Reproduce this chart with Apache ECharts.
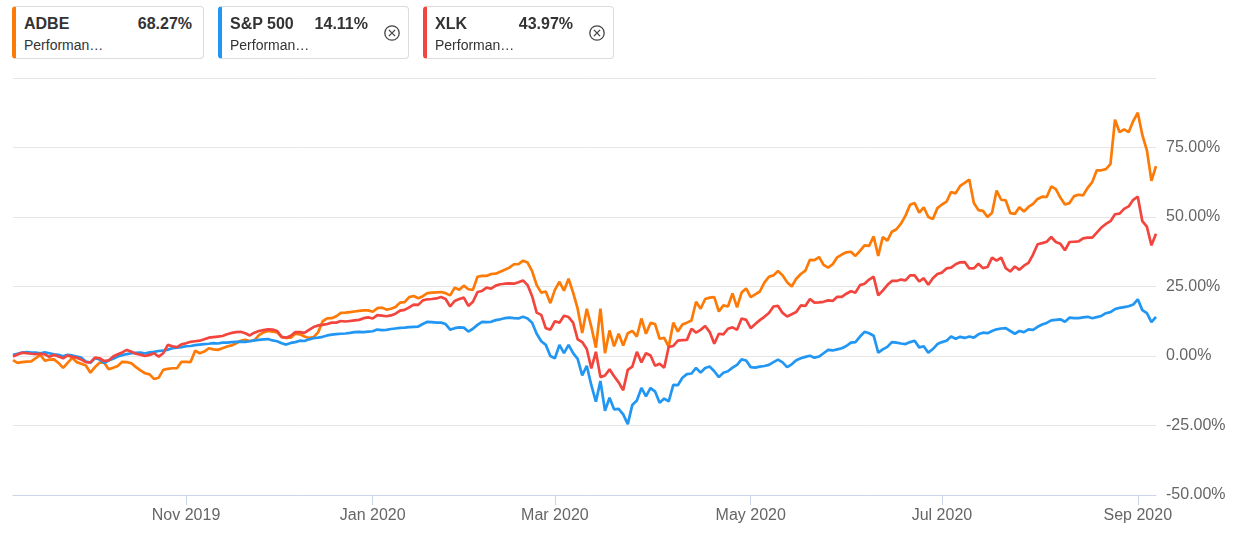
<!DOCTYPE html>
<html>
<head>
<meta charset="utf-8">
<title>ADBE vs S&amp;P 500 vs XLK</title>
<script src="https://cdn.jsdelivr.net/npm/echarts@6/dist/echarts.min.js"></script>
<style>
  html, body { margin: 0; padding: 0; background: #fff; }
  #wrap { position: relative; width: 1236px; height: 539px; overflow: hidden; }
  #chart { position: absolute; left: 0; top: 0; width: 1236px; height: 539px; }
  .card {
    position: absolute; top: 6px; height: 53px; box-sizing: border-box;
    border: 1px solid #dcdcdc; border-left-width: 4px; border-radius: 4px;
    background: #fff; font-family: "Liberation Sans", Arial, sans-serif; color: #333;
  }
  .name { position: absolute; left: 8px; top: 9px; font-size: 16px; line-height: 16px; font-weight: bold; }
  .pct { position: absolute; top: 9px; font-size: 16px; line-height: 16px; font-weight: bold; }
  .sub { position: absolute; left: 8px; top: 31px; font-size: 14px; line-height: 14px; }
  .close { position: absolute; right: 7px; top: 17px; width: 18px; height: 18px; }
</style>
</head>
<body>
<div id="wrap">
  <div id="chart"></div>
  <div id="legend"></div>
</div>
<script>
// performance in % since 2019-09-10, one value per trading day
const adbe = [
  -1.5, -2.5, -2.2, -2.0, -1.9, -0.8, 0.4, -1.7, -1.3, -1.2,
  -2.5, -4.3, -2.5, -0.7, -2.2, -2.8, -3.4, -6.0, -4.0, -2.4,
  -2.3, -4.8, -4.2, -3.6, -2.1, -2.2, -2.6, -4.0, -5.2, -6.2,
  -6.6, -8.3, -7.8, -5.0, -4.6, -4.4, -4.4, -2.1, -2.1, -2.2,
  1.9, 1.0, 1.6, 2.8, 2.4, 2.2, 2.8, 3.4, 3.8, 4.6,
  5.5, 5.8, 5.4, 5.6, 7.5, 8.5, 9.0, 8.8, 8.5, 6.8,
  6.5, 6.6, 8.0, 7.8, 7.0, 6.5, 6.8, 8.5, 12.5, 13.5,
  13.6, 14.3, 15.5, 15.6, 15.8, 16.0, 16.2, 16.4, 16.4, 15.9,
  17.2, 17.4, 16.7, 17.0, 17.6, 19.2, 19.4, 21.2, 21.6, 20.8,
  21.5, 22.6, 22.8, 22.9, 23.0, 22.6, 21.8, 24.6, 23.8, 25.3,
  24.0, 23.8, 28.5, 28.8, 28.8, 29.5, 29.6, 30.3, 31.0, 31.8,
  33.0, 33.0, 34.3, 33.6, 30.5, 25.5, 22.8, 23.2, 19.0, 23.8,
  26.7, 23.5, 27.8, 22.8, 17.0, 8.3, 17.0, 10.5, 3.0, 17.0,
  1.0, 9.2, 3.5, 8.0, 3.8, 8.2, 9.0, 7.0, 13.5, 8.0,
  11.9, 11.5, 6.2, 6.5, 3.3, 12.0, 8.8, 11.3, 12.0, 12.8,
  19.5, 17.0, 20.5, 21.0, 21.2, 16.0, 18.2, 17.8, 22.5, 17.5,
  22.8, 24.3, 21.2, 22.2, 23.2, 26.4, 28.5, 29.0, 30.6, 29.0,
  26.5, 25.0, 27.8, 29.5, 30.7, 34.6, 34.5, 35.6, 32.8, 31.8,
  33.0, 35.5, 36.5, 37.3, 37.5, 36.0, 37.8, 39.8, 39.6, 43.0,
  36.0, 42.8, 41.5, 44.7, 45.6, 47.6, 50.5, 54.4, 55.0, 51.6,
  53.5, 50.0, 49.3, 53.2, 54.5, 55.5, 59.0, 58.5, 61.2, 62.3,
  63.5, 55.0, 52.5, 52.2, 50.0, 51.5, 59.5, 56.2, 56.0, 51.4,
  51.1, 53.5, 52.0, 53.6, 54.7, 56.5, 57.3, 57.2, 61.0, 60.0,
  57.0, 54.5, 55.0, 57.5, 58.0, 57.8, 60.5, 62.6, 66.8, 66.8,
  67.2, 69.0, 85.0, 80.5, 81.5, 80.5, 84.5, 87.5, 79.5, 74.0,
  63.0, 68.27
];
const spx = [
  0.4, 0.8, 1.2, 1.4, 1.2, 1.2, 1.0, 1.3, 1.0, 0.6,
  0.4, -0.1, 0.4, 0.2, -0.2, -0.6, -2.0, -2.4, -0.8, -1.2,
  -2.5, -1.6, -1.0, -0.2, 0.3, 0.7, 1.0, 1.1, 1.2, 0.9,
  1.3, 1.5, 1.8, 1.9, 2.3, 2.8, 3.0, 3.2, 3.5, 3.6,
  3.9, 4.1, 4.3, 4.4, 4.6, 4.5, 4.8, 4.8, 5.0, 5.1,
  5.2, 5.1, 5.3, 5.6, 5.8, 6.0, 6.1, 5.6, 5.3, 4.6,
  4.1, 4.7, 5.0, 5.5, 5.4, 6.0, 6.4, 6.6, 6.9, 7.4,
  7.7, 7.9, 8.0, 8.1, 8.3, 8.6, 8.7, 8.6, 8.8, 8.9,
  9.5, 9.3, 9.4, 9.7, 9.9, 10.1, 10.2, 10.4, 10.5, 10.6,
  11.5, 12.3, 12.2, 12.0, 12.0, 11.5, 9.5, 10.0, 10.3, 10.2,
  8.8, 9.8, 11.2, 12.3, 12.2, 12.3, 12.9, 13.2, 13.6, 13.8,
  13.6, 13.5, 14.1, 13.5, 12.0, 8.0, 5.3, 4.0, 0.0, -0.8,
  4.0, 1.0, 4.0, 1.0, -1.0, -7.0, -3.5, -10.5, -16.4, -9.0,
  -19.7, -15.0, -19.2, -19.0, -21.0, -24.5, -17.6, -16.0, -11.5, -14.5,
  -11.5, -12.8, -16.8, -15.3, -16.3, -10.4, -10.5, -7.8, -6.5, -6.3,
  -4.3, -6.0, -4.3, -3.8, -5.5, -7.6, -6.0, -5.5, -4.2, -3.2,
  -1.2, -1.6, -4.0, -4.2, -3.8, -3.6, -3.2, -2.2, -1.3, -2.3,
  -4.0, -3.0, -1.5, -0.8, -0.3, 0.1, -0.6, -0.2, 1.0, 2.2,
  2.0, 2.4, 2.8, 3.6, 4.8, 5.0, 7.0, 8.7, 8.2, 7.3,
  1.2, 2.4, 3.3, 5.0, 4.8, 4.5, 4.3, 5.0, 5.5, 3.1,
  3.5, 1.2, 2.5, 4.3, 5.0, 5.5, 7.0, 6.2, 6.9, 6.5,
  7.0, 6.6, 7.8, 8.4, 8.2, 9.0, 9.6, 9.9, 10.0, 9.0,
  8.0, 9.0, 8.6, 9.6, 9.4, 10.5, 11.3, 11.9, 12.8, 13.0,
  13.2, 12.3, 13.8, 13.6, 13.6, 13.9, 14.1, 13.6, 14.0, 14.4,
  15.4, 15.8, 16.9, 17.3, 17.6, 17.9, 18.5, 20.4, 16.5, 15.4,
  12.2, 14.11
];
const xlk = [
  -0.2, 0.5, 1.2, 1.0, 0.8, 0.7, 0.8, 0.6, -0.3, 0.4,
  -0.2, -0.8, 0.2, -0.3, -0.6, -1.3, -2.2, -2.3, -0.6, -0.8,
  -1.8, -1.6, -0.2, 0.6, 1.3, 2.2, 1.5, 0.8, 0.5, 0.0,
  0.4, 1.0, -0.2, 1.0, 4.0, 3.5, 3.2, 4.2, 4.6, 5.1,
  5.3, 5.5, 6.0, 6.6, 6.8, 7.0, 7.2, 7.8, 8.3, 8.6,
  8.7, 8.2, 7.4, 8.4, 9.0, 9.3, 9.6, 9.5, 9.0, 6.9,
  6.6, 7.3, 8.6, 8.6, 8.3, 9.4, 10.4, 11.0, 11.2, 11.5,
  12.0, 12.0, 12.6, 12.4, 12.6, 12.8, 13.0, 13.6, 13.9, 13.5,
  14.7, 14.5, 14.3, 14.6, 15.2, 16.3, 16.6, 17.5, 18.5, 18.4,
  20.0, 20.4, 20.5, 20.7, 21.2, 20.5, 17.8, 19.8, 20.5, 21.0,
  18.0, 19.5, 23.0, 23.4, 24.6, 24.2, 25.3, 25.8, 26.0, 26.1,
  26.0, 26.5, 27.2, 25.5, 21.5, 15.6, 14.8, 10.0, 9.5, 12.5,
  12.0, 14.5, 14.0, 12.0, 6.0, 5.0, 2.5, -4.5, 1.5, -7.6,
  -7.0, -4.8, -7.3, -9.5, -12.3, -5.0, -3.8, 1.5, -2.3, 1.0,
  0.2, -3.5, -2.8, -4.2, 3.3, 3.6, 5.5, 5.7, 5.8, 9.8,
  8.4, 9.4, 10.8, 8.6, 4.4, 8.0, 7.8, 9.8, 10.3, 9.4,
  13.5, 13.0, 10.0, 11.5, 12.9, 14.1, 15.5, 17.8, 18.0, 15.5,
  14.2, 15.0, 15.8, 18.2, 18.0, 20.5, 19.2, 19.3, 19.5, 20.0,
  19.8, 21.3, 21.3, 22.4, 23.3, 22.8, 25.5, 26.0, 27.5, 28.5,
  21.8, 23.5, 25.5, 27.0, 27.0, 27.5, 27.2, 29.0, 29.0, 26.8,
  28.0, 25.6, 28.0, 29.5, 30.0, 31.5, 31.8, 33.0, 33.7, 33.8,
  31.5, 31.5, 33.2, 31.6, 32.0, 35.4, 34.3, 35.4, 31.6, 30.4,
  32.2, 31.0, 32.5, 33.5, 36.5, 40.2, 40.6, 41.1, 42.8, 41.0,
  40.4, 38.0, 41.0, 41.1, 41.2, 42.3, 42.6, 42.6, 44.4, 46.2,
  47.5, 48.5, 51.0, 51.2, 52.9, 53.8, 56.2, 57.3, 48.5, 46.5,
  39.8, 43.97
];

const seriesNames = ['ADBE', 'S&P 500', 'XLK'];
const seriesColors = ['#fd7a07', '#2196f3', '#f2453d'];
const lastValues = ['68.27%', '14.11%', '43.97%'];

// market holidays inside the range, skipped like weekends
const holidays = ['2019-11-28', '2019-12-25', '2020-01-01', '2020-01-20', '2020-02-17',
  '2020-04-10', '2020-05-25', '2020-07-03', '2020-09-07'];
const tickDates = ['2019-11-01', '2020-01-02', '2020-03-02', '2020-05-01', '2020-07-01', '2020-09-01'];
const tickLabels = ['Nov 2019', 'Jan 2020', 'Mar 2020', 'May 2020', 'Jul 2020', 'Sep 2020'];

function tradingDays(from, to) {
  let days = [];
  let t = Date.parse(from + 'T00:00:00Z');
  let end = Date.parse(to + 'T00:00:00Z');
  while (t <= end) {
    let d = new Date(t);
    let s = d.toISOString().slice(0, 10);
    let wd = d.getUTCDay();
    if (wd !== 0 && wd !== 6 && holidays.indexOf(s) < 0) {
      days.push(s);
    }
    t += 86400000;
  }
  return days;
}

const dates = tradingDays('2019-09-10', '2020-09-08');

let tickMap = {};
tickDates.forEach((d, i) => { tickMap[d] = tickLabels[i]; });
const isTick = (idx, value) => tickMap[value] !== undefined;

// legend cards
const cardLefts = [12, 218, 423];
const cardWidths = [192, 191, 191];
let legendHtml = '';
seriesNames.forEach((name, i) => {
  let closable = i > 0;
  legendHtml += '<div class="card" style="left:' + cardLefts[i] + 'px;width:' + cardWidths[i] +
    'px;border-left-color:' + seriesColors[i] + '">' +
    '<span class="name">' + name.replace('&', '&amp;') + '</span>' +
    '<span class="pct" style="right:' + (closable ? 40 : 11) + 'px">' + lastValues[i] + '</span>' +
    '<span class="sub">Performan\u2026</span>' +
    (closable ? '<svg class="close" viewBox="0 0 18 18"><circle cx="9" cy="9" r="7.2" fill="none" stroke="#444" stroke-width="1.3"/>' +
      '<path d="M5.9 5.9 L12.1 12.1 M12.1 5.9 L5.9 12.1" stroke="#444" stroke-width="1.3"/></svg>' : '') +
    '</div>';
});
document.getElementById('legend').innerHTML = legendHtml;

const chart = echarts.init(document.getElementById('chart'), null, {renderer: 'canvas'});

const option = {
  animation: false,
  grid: {left: 13, right: 80, top: 78, bottom: 44},
  xAxis: {
    type: 'category',
    data: dates,
    boundaryGap: false,
    axisLine: {onZero: false, lineStyle: {color: '#ccd6eb', width: 1}},
    axisTick: {interval: isTick, length: 10, lineStyle: {color: '#ccd6eb'}},
    axisLabel: {
      interval: isTick,
      formatter: v => tickMap[v] || '',
      color: '#666',
      fontSize: 16,
      fontFamily: 'Liberation Sans, Arial, sans-serif',
      margin: 13
    },
    splitLine: {show: false}
  },
  yAxis: {
    type: 'value',
    position: 'right',
    min: -50,
    max: 100,
    interval: 25,
    axisLine: {show: false},
    axisTick: {show: false},
    splitLine: {lineStyle: {color: '#e6e6e6', width: 1}},
    axisLabel: {
      showMaxLabel: false,
      formatter: v => (v === 100 ? '' : v.toFixed(2) + '%'),
      color: '#666',
      fontSize: 16,
      fontFamily: 'Liberation Sans, Arial, sans-serif',
      margin: 10
    }
  },
  series: [adbe, spx, xlk].map((data, i) => ({
    name: seriesNames[i],
    type: 'line',
    data: data,
    showSymbol: false,
    symbol: 'none',
    lineStyle: {color: seriesColors[i], width: 2.7},
    itemStyle: {color: seriesColors[i]}
  }))
};

chart.setOption(option);
</script>
</body>
</html>
